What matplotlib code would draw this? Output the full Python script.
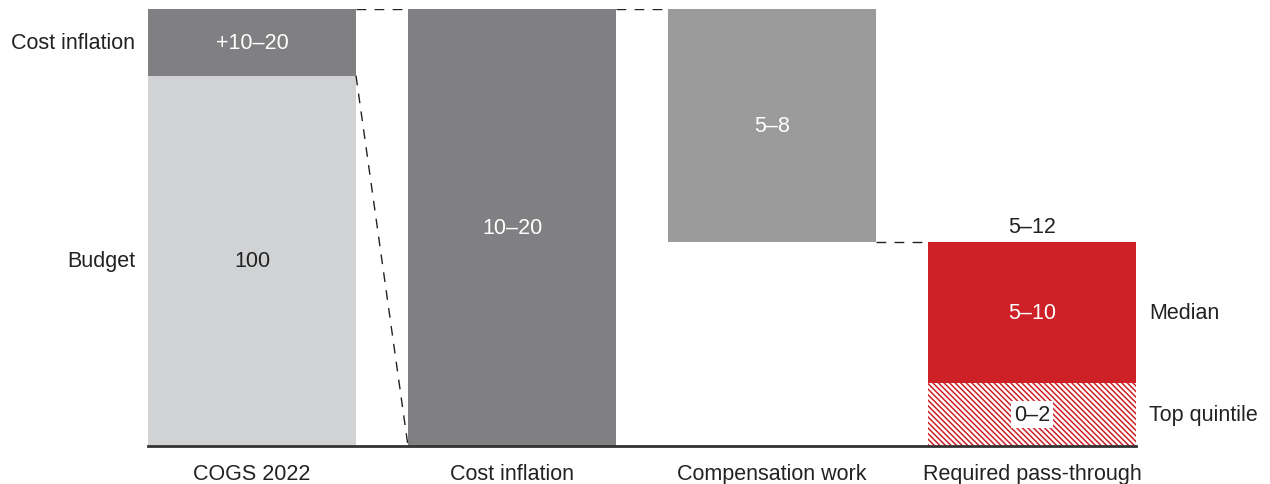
import matplotlib.pyplot as plt

plt.rcParams["font.family"] = ["Liberation Sans", "DejaVu Sans"]
plt.rcParams["hatch.linewidth"] = 1.1

categories = ["COGS 2022", "Cost inflation", "Compensation work", "Required pass-through"]

# schematic bar heights (index, COGS 2022 budget = 100)
budget = 100
inflation = 18
compensation = 63
median = 38
top_quintile = 17

budget_label = "100"
inflation_label = "+10–20"
total_inflation_label = "10–20"
compensation_label = "5–8"
pass_total_label = "5–12"
median_label = "5–10"
top_label = "0–2"

light = "#d1d2d4"
dark = "#808083"
mid = "#9b9b9b"
red = "#cd2027"
ink = "#222222"
fs = 15.5

fig = plt.figure(figsize=(12.7, 4.85), dpi=100)
ax = fig.add_axes([148 / 1270, 38 / 485, 988 / 1270, 437 / 485])

w = 0.8
total = budget + inflation
pass_through = median + top_quintile

# COGS 2022: budget plus inflation on top
ax.bar(0, budget, w, color=light, linewidth=0)
ax.bar(0, inflation, w, bottom=budget, color=dark, linewidth=0)
ax.text(0, budget / 2, budget_label, ha="center", va="center", fontsize=fs, color=ink)
ax.text(0, budget + inflation / 2, inflation_label, ha="center", va="center", fontsize=fs, color="white")

# cost inflation, full height
ax.bar(1, total, w, color=dark, linewidth=0)
ax.text(1, total / 2, total_inflation_label, ha="center", va="center", fontsize=fs, color="white")

# compensation work hangs from the top
ax.bar(2, compensation, w, bottom=total - compensation, color=mid, linewidth=0)
ax.text(2, total - compensation / 2, compensation_label, ha="center", va="center", fontsize=fs, color="white")

# required pass-through: median on top of hatched top quintile
ax.bar(3, median, w, bottom=top_quintile, color=red, linewidth=0)
ax.bar(3, top_quintile, w, color="white", edgecolor=red, hatch="\\" * 6, linewidth=0)
ax.text(3, top_quintile + median / 2, median_label, ha="center", va="center", fontsize=fs, color="white")
ax.text(3, top_quintile / 2, top_label, ha="center", va="center", fontsize=fs, color=ink,
        bbox=dict(facecolor="white", edgecolor="none", pad=2))
ax.text(3, pass_through + 1.5, pass_total_label, ha="center", va="bottom", fontsize=fs, color=ink)

# dashed connectors
dash = dict(color=ink, linewidth=1, linestyle=(0, (7, 6)))
ax.plot([0 + w / 2, 1 - w / 2], [total, total], **dash)
ax.plot([1 + w / 2, 2 - w / 2], [total, total], **dash)
ax.plot([2 + w / 2, 3 - w / 2], [pass_through, pass_through], **dash)
ax.plot([0 + w / 2, 1 - w / 2], [budget, 0], **dash)

# row labels
ax.text(-0.45, budget + inflation / 2, "Cost inflation", ha="right", va="center", fontsize=fs, color=ink)
ax.text(-0.45, budget / 2, "Budget", ha="right", va="center", fontsize=fs, color=ink)
ax.text(3.45, top_quintile + median / 2, "Median", ha="left", va="center", fontsize=fs, color=ink)
ax.text(3.45, top_quintile / 2, "Top quintile", ha="left", va="center", fontsize=fs, color=ink)

ax.set_xlim(-w / 2, 3 + w / 2)
ax.set_ylim(0, total)
ax.set_xticks(range(len(categories)))
ax.set_xticklabels(categories, fontsize=fs, color=ink)
ax.tick_params(axis="x", length=0, pad=12)
ax.set_yticks([])
for side in ["top", "left", "right"]:
    ax.spines[side].set_visible(False)
ax.spines["bottom"].set_linewidth(2)
ax.spines["bottom"].set_color("#333333")

fig.savefig("out.png", dpi=100)
